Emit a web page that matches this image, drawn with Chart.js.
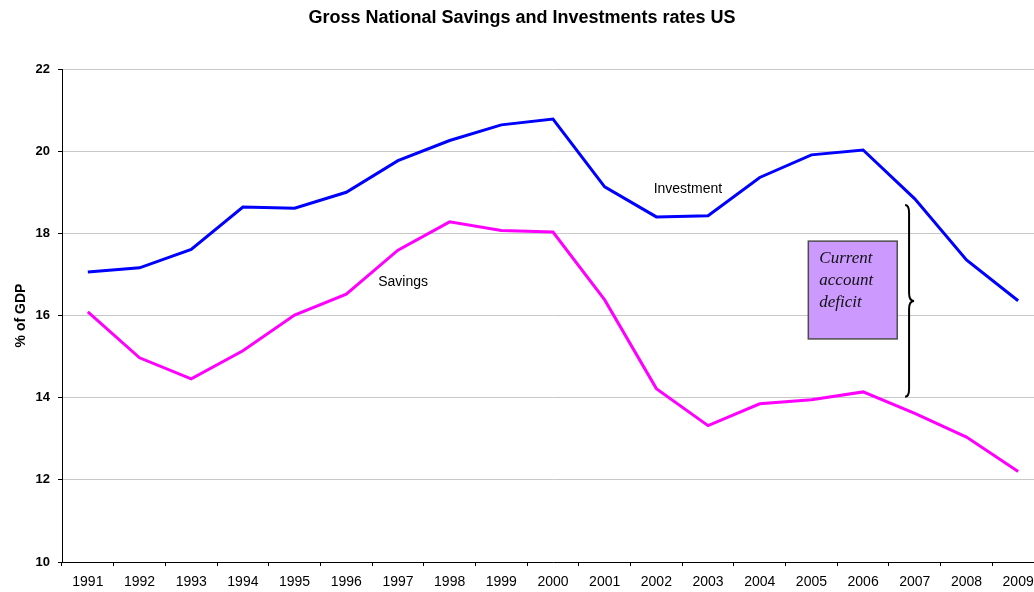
<!DOCTYPE html>
<html lang="en">
<head>
  <meta charset="UTF-8">
  <title>Gross National Savings and Investments rates US</title>
  <script src="https://cdn.jsdelivr.net/npm/chart.js"></script>
  <style>
    html, body { margin: 0; padding: 0; overflow: hidden; background: #fff; }
    .grafico { width: 1044px; height: 592px; }
  </style>
</head>
<body>
  <div class="grafico">
    <canvas id="gf1" width="1044" height="592"></canvas>
  </div>

<script>
  // data (% of GDP)
  const anos = ['1991', '1992', '1993', '1994', '1995', '1996', '1997', '1998', '1999', '2000',
    '2001', '2002', '2003', '2004', '2005', '2006', '2007', '2008', '2009']
  const investimento = [17.06, 17.16, 17.61, 18.64, 18.61, 19.00, 19.77, 20.26, 20.64, 20.78,
    19.13, 18.40, 18.43, 19.36, 19.91, 20.03, 18.84, 17.35, 16.36]
  const poupanca = [16.09, 14.97, 14.46, 15.14, 16.01, 16.52, 17.59, 18.28, 18.07, 18.03,
    16.38, 14.22, 13.32, 13.85, 13.95, 14.14, 13.62, 13.04, 12.20]
  const yTicks = [10, 12, 14, 16, 18, 20, 22]

  const fonte = 'Arial, "Liberation Sans", sans-serif'

  // labels, box and brace drawn on top, placed in data units
  const anotacoes = {
    id: 'anotacoes',
    afterDatasetsDraw(chart) {
      const ctx = chart.ctx
      const x = chart.scales.x
      const y = chart.scales.y
      ctx.save()

      ctx.fillStyle = '#000'
      ctx.font = '14px ' + fonte
      ctx.textAlign = 'center'
      ctx.textBaseline = 'middle'
      ctx.fillText('Investment', x.getPixelForValue(11.61), y.getPixelForValue(19.08))
      ctx.fillText('Savings', x.getPixelForValue(6.10), y.getPixelForValue(16.80))

      // box
      const bx1 = x.getPixelForValue(13.94)
      const bx2 = x.getPixelForValue(15.66)
      const by1 = y.getPixelForValue(17.81)
      const by2 = y.getPixelForValue(15.43)
      ctx.fillStyle = '#cc99ff'
      ctx.fillRect(bx1, by1, bx2 - bx1, by2 - by1)
      ctx.strokeStyle = '#4d4d4d'
      ctx.lineWidth = 1.5
      ctx.strokeRect(bx1, by1, bx2 - bx1, by2 - by1)

      ctx.fillStyle = '#111'
      ctx.font = 'italic 17px "Liberation Serif", "Times New Roman", serif'
      ctx.textAlign = 'left'
      ctx.textBaseline = 'alphabetic'
      const linhas = ['Current', 'account', 'deficit']
      linhas.forEach(function (t, i) {
        ctx.fillText(t, bx1 + 11, by1 + 22 + i * 22)
      })

      // curly brace
      const x0 = x.getPixelForValue(15.87)
      const yT = y.getPixelForValue(18.69)
      const yB = y.getPixelForValue(14.02)
      const yM = (yT + yB) / 2
      ctx.strokeStyle = '#000'
      ctx.lineWidth = 2
      ctx.beginPath()
      ctx.moveTo(x0 - 3, yT)
      ctx.quadraticCurveTo(x0 + 1, yT, x0 + 1, yT + 8)
      ctx.lineTo(x0 + 1, yM - 8)
      ctx.quadraticCurveTo(x0 + 1, yM, x0 + 6, yM)
      ctx.quadraticCurveTo(x0 + 1, yM, x0 + 1, yM + 8)
      ctx.lineTo(x0 + 1, yB - 8)
      ctx.quadraticCurveTo(x0 + 1, yB, x0 - 3, yB)
      ctx.stroke()

      ctx.restore()
    }
  }

  const ctx = document.getElementById('gf1').getContext('2d')
  new Chart(ctx, {
    type: 'line',
    data: {
      labels: anos,
      datasets: [{
        label: 'Investment',
        data: investimento,
        borderColor: '#0000ff',
        borderWidth: 3,
        pointRadius: 0,
        tension: 0
      }, {
        label: 'Savings',
        data: poupanca,
        borderColor: '#ff00ff',
        borderWidth: 3,
        pointRadius: 0,
        tension: 0
      }]
    },
    options: {
      responsive: false,
      animation: false,
      layout: { padding: 0 },
      plugins: {
        legend: { display: false },
        tooltip: { enabled: false },
        title: {
          display: true,
          text: 'Gross National Savings and Investments rates US',
          color: '#000',
          font: { size: 18, weight: 'bold', family: fonte },
          padding: { top: 7, bottom: 40.4 }
        }
      },
      scales: {
        x: {
          offset: true,
          grid: {
            offset: true,
            drawOnChartArea: false,
            tickLength: 4,
            tickColor: '#000'
          },
          border: { color: '#000', width: 1 },
          ticks: {
            color: '#000',
            autoSkip: false,
            maxRotation: 0,
            padding: 8,
            font: { size: 14, family: fonte }
          },
          afterFit: function (scale) { scale.height = 30 }
        },
        y: {
          min: 10,
          max: 22,
          afterBuildTicks: function (scale) {
            scale.ticks = yTicks.map(function (v) { return { value: v } })
          },
          grid: {
            color: '#c8c8c8',
            tickColor: '#000',
            tickLength: 4
          },
          border: { color: '#000', width: 1 },
          ticks: {
            color: '#000',
            padding: 8,
            font: { size: 13, weight: 'bold', family: fonte }
          },
          title: {
            display: true,
            text: '% of GDP',
            color: '#000',
            padding: { top: 13, bottom: 0 },
            font: { size: 14, weight: 'bold', family: fonte }
          },
          afterFit: function (scale) { scale.width = 62 }
        }
      }
    },
    plugins: [anotacoes]
  })
</script>
</body>
</html>
